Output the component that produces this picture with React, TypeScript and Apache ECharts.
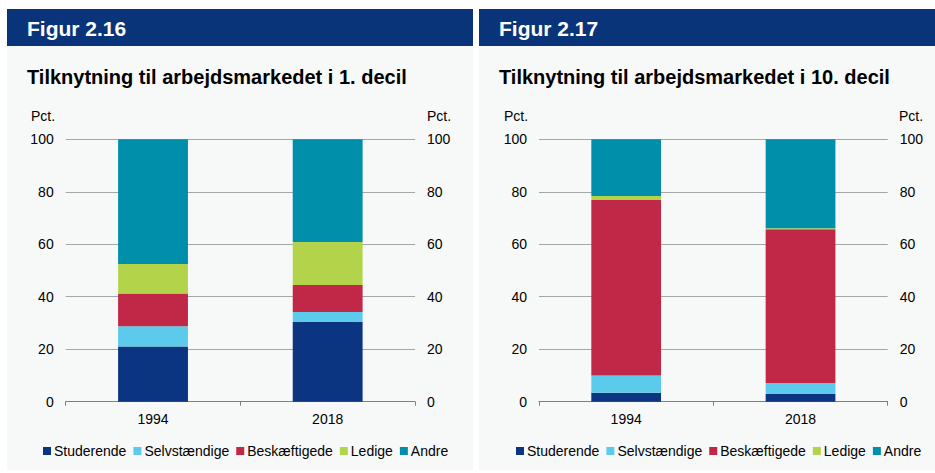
import React, { useEffect, useRef } from "react";
import * as echarts from "echarts";

const categories = ["1994", "2018"];
const seriesNames = ["Studerende", "Selvstændige", "Beskæftigede", "Ledige", "Andre"];
const colors = ["#0b3580", "#5ccbeb", "#c12747", "#b3d44a", "#008fab"];

// Figur 2.16 — 1. decil
const d1Studerende = [21.0, 30.4];
const d1Selvstaendige = [7.8, 3.8];
const d1Beskaeftigede = [12.4, 10.3];
const d1Ledige = [11.3, 16.4];
const d1Andre = [47.5, 39.1];

// Figur 2.17 — 10. decil
const d10Studerende = [3.4, 2.9];
const d10Selvstaendige = [6.6, 4.2];
const d10Beskaeftigede = [66.9, 58.6];
const d10Ledige = [1.5, 0.4];
const d10Andre = [21.6, 33.9];

const yTicks = { min: 0, max: 100, interval: 20 };

const FONT = 'Arial, "Liberation Sans", sans-serif';

export default function App() {
  const ref = useRef<HTMLDivElement>(null);
  useEffect(() => {
    if (!ref.current) return;
    const chart = echarts.init(ref.current, null, { renderer: "svg" });
    const left = [d1Studerende, d1Selvstaendige, d1Beskaeftigede, d1Ledige, d1Andre];
    const right = [d10Studerende, d10Selvstaendige, d10Beskaeftigede, d10Ledige, d10Andre];

    const grids = [
      { left: 65.7, top: 139.3, width: 349.3, height: 262.4 },
      { left: 539, top: 139.3, width: 348.7, height: 262.4 },
    ];

    const xAxis = [0, 1].map((i) => ({
      type: "category",
      gridIndex: i,
      data: categories,
      axisLine: { lineStyle: { color: "#7f7f7f", width: 1 } },
      axisTick: { show: true, length: 4, lineStyle: { color: "#7f7f7f" } },
      axisLabel: { color: "#000", fontSize: 14, fontFamily: FONT, margin: 10 },
    }));

    const yAxis: any[] = [];
    [0, 1].forEach((g) => {
      yAxis.push({
        type: "value",
        gridIndex: g,
        position: "left",
        ...yTicks,
        axisLine: { show: false },
        axisTick: { show: false },
        axisLabel: { color: "#000", fontSize: 14, fontFamily: FONT, margin: 12 },
        splitLine: { show: true, lineStyle: { color: "#a6a6a6", width: 1 } },
      });
      yAxis.push({
        type: "value",
        gridIndex: g,
        position: "right",
        ...yTicks,
        axisLine: { show: false },
        axisTick: { show: false },
        axisLabel: { color: "#000", fontSize: 14, fontFamily: FONT, margin: 12 },
        splitLine: { show: false },
      });
    });

    const series: any[] = [];
    [left, right].forEach((set, g) => {
      set.forEach((vals, k) => {
        series.push({
          type: "bar",
          name: seriesNames[k],
          xAxisIndex: g,
          yAxisIndex: g * 2,
          stack: "s" + g,
          data: vals,
          barWidth: "40%",
          itemStyle: { color: colors[k] },
        });
      });
    });

    const legendBase = {
      data: seriesNames,
      orient: "horizontal",
      itemWidth: 8,
      itemHeight: 8,
      itemGap: 7,
      icon: "rect",
      textStyle: { color: "#000", fontSize: 14, fontFamily: FONT, padding: [0, 0, 0, -2] },
      top: 439,
    };

    const textEl = (x: number, y: number, text: string, font: string, fill: string, align = "left") => ({
      type: "text",
      x,
      y,
      silent: true,
      style: { text, font, fill, align, verticalAlign: "middle" },
    });

    const graphic: any[] = [
      { type: "rect", shape: { x: 7, y: 46, width: 466, height: 424 }, style: { fill: "#f7f9f9" }, z: -10 },
      { type: "rect", shape: { x: 479, y: 46, width: 456, height: 424 }, style: { fill: "#f7f9f9" }, z: -10 },
      { type: "rect", shape: { x: 7, y: 9, width: 466, height: 37 }, style: { fill: "#0a3479" }, z: -9 },
      { type: "rect", shape: { x: 479, y: 9, width: 456, height: 37 }, style: { fill: "#0a3479" }, z: -9 },
      textEl(27, 28, "Figur 2.16", `bold 21px ${FONT}`, "#ffffff"),
      textEl(499, 28, "Figur 2.17", `bold 21px ${FONT}`, "#ffffff"),
      textEl(27, 77, "Tilknytning til arbejdsmarkedet i 1. decil", `bold 20px ${FONT}`, "#000"),
      textEl(499, 77, "Tilknytning til arbejdsmarkedet i 10. decil", `bold 20px ${FONT}`, "#000"),
      textEl(31, 116, "Pct.", `14px ${FONT}`, "#000"),
      textEl(427, 116, "Pct.", `14px ${FONT}`, "#000"),
      textEl(504, 116, "Pct.", `14px ${FONT}`, "#000"),
      textEl(899, 116, "Pct.", `14px ${FONT}`, "#000"),
    ];

    chart.setOption({
      animation: false,
      backgroundColor: "#ffffff",
      grid: grids,
      xAxis,
      yAxis,
      series,
      legend: [
        { ...legendBase, left: 38 },
        { ...legendBase, left: 511 },
      ],
      graphic,
    });
    return () => chart.dispose();
  }, []);
  return (
    <div
      ref={ref}
      style={{ position: "fixed", left: 0, top: 0, width: 935, height: 473 }}
    />
  );
}
